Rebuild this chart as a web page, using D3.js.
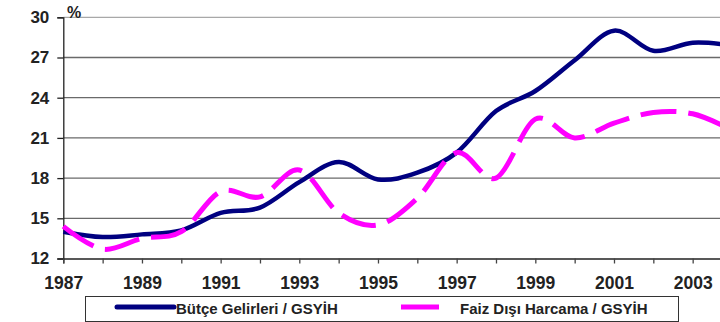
<!DOCTYPE html>
<html>
<head>
<meta charset="utf-8">
<script src="https://cdn.jsdelivr.net/npm/d3@7"></script>
<style>
  html, body { margin: 0; padding: 0; background: #fff; }
  svg { display: block; font-family: "Liberation Sans", Arial, sans-serif; font-weight: bold; }
</style>
</head>
<body>
<div id="chart"></div>
<script>
// Budget revenue and non-interest spending as a share of GDP (%)
const years = [1987, 1988, 1989, 1990, 1991, 1992, 1993, 1994, 1995, 1996,
               1997, 1998, 1999, 2000, 2001, 2002, 2003, 2004];
const revenue = [14.0, 13.6, 13.8, 14.1, 15.4, 15.8, 17.7, 19.2, 17.9, 18.4,
                 19.9, 23.0, 24.5, 26.8, 29.0, 27.5, 28.1, 27.9];
const spending = [14.4, 12.7, 13.5, 14.0, 17.0, 16.6, 18.6, 15.4, 14.5, 16.5,
                  19.9, 18.0, 22.4, 21.0, 22.1, 22.9, 22.8, 21.6];
const yTicks = [12, 15, 18, 21, 24, 27, 30];
const xLabelYears = [1987, 1989, 1991, 1993, 1995, 1997, 1999, 2001, 2003];
const seriesNames = ["Bütçe Gelirleri / GSYİH", "Faiz Dışı Harcama / GSYİH"];

const W = 720, H = 322;
const svg = d3.select("#chart").append("svg").attr("width", W).attr("height", H);

const x = d3.scaleLinear().domain([1987, 2004]).range([63.3, 732]);
const y = d3.scaleLinear().domain([12, 30]).range([258.5, 17.3]);

// horizontal gridlines
svg.append("g").selectAll("line").data(yTicks.filter(t => t > 12)).join("line")
  .attr("x1", x(1987)).attr("x2", x(2004))
  .attr("y1", d => y(d)).attr("y2", d => y(d))
  .attr("stroke", d => d === 30 ? "#a8a8a8" : "#6a6a6a")
  .attr("stroke-width", 1.3);

// y axis
const yAxis = d3.axisLeft(y).tickValues(yTicks).tickSize(6).tickPadding(8).tickFormat(d3.format("d"));
const gy = svg.append("g").attr("transform", `translate(${x(1987)},0)`).call(yAxis);
gy.select(".domain").attr("stroke", "#222").attr("stroke-width", 1.3);
gy.selectAll(".tick line").attr("stroke", "#222").attr("stroke-width", 1.3);
gy.selectAll(".tick text").attr("font-size", 17).attr("font-weight", "bold")
  .attr("font-family", "Liberation Sans, Arial, sans-serif").attr("fill", "#222");

// x axis
const xAxis = d3.axisBottom(x).tickValues(years).tickSize(5).tickPadding(13)
  .tickFormat(d => xLabelYears.includes(d) ? String(d) : "");
const gx = svg.append("g").attr("transform", `translate(0,${y(12)})`).call(xAxis);
gx.select(".domain").attr("stroke", "#222").attr("stroke-width", 1.3);
gx.selectAll(".tick line").attr("stroke", "#444").attr("stroke-width", 1.3);
gx.selectAll(".tick text").attr("font-size", 17.5).attr("font-weight", "bold")
  .attr("font-family", "Liberation Sans, Arial, sans-serif").attr("fill", "#222");

// unit label
svg.append("text").attr("x", 67).attr("y", 18).attr("font-size", 16).attr("fill", "#222").text("%");

// series lines
const line = d3.line().x((d, i) => x(years[i])).y(d => y(d)).curve(d3.curveCardinal.tension(0));

svg.append("path").datum(revenue).attr("d", line)
  .attr("fill", "none").attr("stroke", "#000080").attr("stroke-width", 4.5)
  .attr("stroke-linejoin", "round");

svg.append("path").datum(spending).attr("d", line)
  .attr("fill", "none").attr("stroke", "#ff00ff").attr("stroke-width", 5)
  .attr("stroke-dasharray", "36 12");

// legend
const lg = svg.append("g");
lg.append("rect").attr("x", 85.5).attr("y", 296.5).attr("width", 593).attr("height", 25)
  .attr("fill", "#fff").attr("stroke", "#333").attr("stroke-width", 1);
lg.append("line").attr("x1", 117).attr("x2", 174).attr("y1", 307).attr("y2", 307)
  .attr("stroke", "#000080").attr("stroke-width", 5).attr("stroke-linecap", "round");
lg.append("text").attr("x", 176).attr("y", 313.5).attr("font-size", 15).attr("fill", "#222").text(seriesNames[0]);
lg.append("line").attr("x1", 401).attr("x2", 439).attr("y1", 307).attr("y2", 307)
  .attr("stroke", "#ff00ff").attr("stroke-width", 5);
lg.append("text").attr("x", 460).attr("y", 313.5).attr("font-size", 15).attr("fill", "#222").text(seriesNames[1]);
</script>
</body>
</html>
